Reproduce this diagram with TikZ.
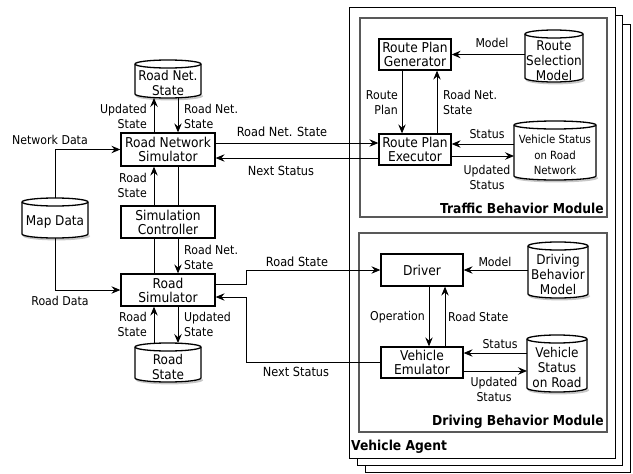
\documentclass[tikz,border=0pt]{standalone}
\usepackage{fontspec}
\setmainfont{DejaVu Sans}[FakeStretch=0.9]
\usetikzlibrary{arrows.meta,calc,shadows}
\newcommand\bxfont{\fontsize{13.6}{14}\selectfont}
\newcommand\lbfont{\fontsize{12.2}{15}\selectfont}
\newcommand\lbbig{\fontsize{12.6}{15}\selectfont}
\newcommand\smfont{\fontsize{11.3}{15.5}\selectfont}
\newcommand\cyfont{\fontsize{13.4}{15}\selectfont}
\newcommand\hdfont{\bfseries\fontsize{13.7}{15}\selectfont}
\newcommand\dbcyl[7]{%
  \node[minimum width=#4pt, minimum height=#5pt, inner sep=0pt, outer sep=0pt] (#1) at (#2,#3) {};
  \draw[black!22, line width=1.8pt] ($(#1.south west)+(1.5,-2.5)$) arc[start angle=180, end angle=0, x radius=#4/2, y radius=4];
  \draw[cylline, fill=white] ($(#1.north west)+(0,4)$) -- ($(#1.south west)+(0,-4)$) arc[start angle=180, end angle=0, x radius=#4/2, y radius=4] -- ($(#1.north east)+(0,4)$) arc[start angle=0, end angle=-180, x radius=#4/2, y radius=4] -- cycle;
  \draw[cylline] ($(#1.north west)+(0,4)$) arc[start angle=180, end angle=0, x radius=#4/2, y radius=4];
  \node[font=#7, align=center, inner sep=0pt] (#1t) at ($(#1)+(0,4.5)$) {#6};
}
\tikzset{
  box/.style={draw, line width=1.3pt, fill=white, font=\bxfont, align=center, inner sep=0pt,
    drop shadow={shadow xshift=1pt, shadow yshift=-1pt, opacity=0.35}},
  cylline/.style={line width=1.3pt},
  lbl/.style={font=\lbfont, inner sep=0pt},
  arr/.style={line width=0.9pt, -{Stealth[length=9pt, width=7.5pt, inset=3.2pt]}},
  ln/.style={line width=0.9pt},
  vaframe/.style={draw, line width=1pt, fill=white, inner sep=0pt,
    drop shadow={shadow xshift=1.2pt, shadow yshift=-1.2pt, opacity=0.35}},
  modframe/.style={draw=black!65, line width=1.6pt, inner sep=0pt,
    drop shadow={shadow xshift=1.2pt, shadow yshift=-1.2pt, opacity=0.3}},
}
\begin{document}
\begin{tikzpicture}[x=1pt, y=-1pt]
\useasboundingbox (0,0) rectangle (633,474);

% Vehicle agent stack
\node[vaframe, minimum width=265pt, minimum height=448pt] (va3) at (497.5,248) {};
\node[vaframe, minimum width=265pt, minimum height=450pt] (va2) at (489.5,240) {};
\node[vaframe, minimum width=266pt, minimum height=451pt] (va1) at (482,232.5) {};
\node[font=\hdfont, anchor=west, inner sep=0pt] (valbl) at (351,447) {Vehicle Agent};

% module frames
\node[modframe, fill=white, minimum width=247pt, minimum height=199pt] (tbm) at (483.5,117.5) {};
\node[font=\hdfont, anchor=east, inner sep=0pt] (tbmlbl) at (604,208) {Traffic Behavior Module};
\node[modframe, fill=white, minimum width=248pt, minimum height=199pt] (dbmod) at (483,332.5) {};
\node[font=\hdfont, anchor=east, inner sep=0pt] (dbmlbl) at (604,422) {Driving Behavior Module};

% left boxes
\node[box, minimum width=94pt, minimum height=33pt] (rns) at (168,149.5) {Road Network\\Simulator};
\node[box, minimum width=94pt, minimum height=32pt] (sc) at (168,222) {Simulation\\Controller};
\node[box, minimum width=94pt, minimum height=32pt] (rs) at (168,290) {Road\\Simulator};

% right boxes
\node[box, minimum width=72pt, minimum height=31pt] (rpg) at (415,54.5) {Route Plan\\Generator};
\node[box, minimum width=72pt, minimum height=31pt] (rpe) at (415,149.5) {Route Plan\\Executor};
\node[box, minimum width=82pt, minimum height=32pt] (drv) at (422,270) {Driver};
\node[box, minimum width=82pt, minimum height=31pt] (ve) at (422,362.5) {Vehicle\\Emulator};

% databases
\dbcyl{map}{55}{218}{66}{40}{Map Data}{\cyfont}
\dbcyl{rndb}{168}{79}{66}{38}{Road Net.\\State}{\cyfont}
\dbcyl{rsdb}{168}{362.5}{66}{39}{Road\\State}{\cyfont}
\dbcyl{rsm}{554}{56}{58}{52}{Route\\Selection\\Model}{\cyfont}
\dbcyl{vsrn}{555}{150.5}{82}{59}{Vehicle Status\\on Road\\Network}{\smfont}
\dbcyl{dbm}{558}{270}{60}{56}{Driving\\Behavior\\Model}{\cyfont}
\dbcyl{vsr}{557}{363.5}{60}{57}{Vehicle\\Status\\on Road}{\cyfont}

% left connectors
\draw[arr] ([xshift=-14pt]rns.north) -- ([xshift=-14pt]rndb.south);
\draw[arr] ([xshift=10pt]rndb.south) -- ([xshift=10pt]rns.north);
\draw[arr] ([xshift=-14pt]sc.north) -- ([xshift=-14pt]rns.south);
\draw[ln] ([xshift=10pt]rns.south) -- ([xshift=10pt]sc.north);
\draw[ln] ([xshift=-14pt]sc.south) -- ([xshift=-14pt]rs.north);
\draw[arr] ([xshift=10pt]sc.south) -- ([xshift=10pt]rs.north);
\draw[arr] ([xshift=-14pt]rsdb.north) -- ([xshift=-14pt]rs.south);
\draw[arr] ([xshift=10pt]rs.south) -- ([xshift=10pt]rsdb.north);
\draw[arr] (map.north) |- (rns.west);
\draw[arr] (map.south) |- (rs.west);

% long connectors
\draw[arr] ([yshift=6.5pt]rns.east) -- ([yshift=6.5pt]rpe.west);
\draw[arr] ([yshift=-8.5pt]rpe.west) -- ([yshift=-8.5pt]rns.east);
\coordinate (jx) at (246,280);
\draw[arr] ([yshift=6pt]rs.east) -- ([yshift=6pt]rs.east -| jx) |- (drv.west);
\draw[arr] (ve.west) -- (ve.west -| jx) |- ([yshift=-7pt]rs.east);

% right connectors
\draw[arr] (rpg.east -| rsm.west) -- (rpg.east);
\draw[arr] ([xshift=-13pt]rpg.south) -- ([xshift=-13pt]rpe.north);
\draw[arr] ([xshift=22pt]rpe.north) -- ([xshift=22pt]rpg.south);
\draw[arr] ([yshift=5.5pt]rpe.east -| vsrn.west) -- ([yshift=5.5pt]rpe.east);
\draw[arr] ([yshift=-6.5pt]rpe.east) -- ([yshift=-6.5pt]rpe.east -| vsrn.west);
\draw[arr] (drv.east -| dbm.west) -- (drv.east);
\draw[arr] ([xshift=7pt]drv.south) -- ([xshift=7pt]ve.north);
\draw[arr] ([xshift=23pt]ve.north) -- ([xshift=23pt]drv.south);
\draw[arr] ([yshift=9.5pt]ve.east -| vsr.west) -- ([yshift=9.5pt]ve.east);
\draw[arr] ([yshift=-8.5pt]ve.east) -- ([yshift=-8.5pt]ve.east -| vsr.west);

% labels left
\node[lbl, anchor=east, align=right] (l1) at (147,116.5) {Updated\\State};
\node[lbl, anchor=west, align=left] (l2) at (184,116.5) {Road Net.\\State};
\node[lbl] (l3) at (50,140) {Network Data};
\node[lbl, anchor=east, align=right] (l4) at (147,185.5) {Road\\State};
\node[lbl, anchor=west, align=left] (l5) at (184,257.5) {Road Net.\\State};
\node[lbl] (l6) at (60,301) {Road Data};
\node[lbl, anchor=east, align=right] (l7) at (147,324.5) {Road\\State};
\node[lbl, anchor=west, align=left] (l8) at (184,324.5) {Updated\\State};
\node[lbl, font=\lbbig] (l9) at (282,132) {Road Net. State};
\node[lbl, font=\lbbig] (l10) at (281,171) {Next Status};
\node[lbl, font=\lbbig] (l11) at (297,262) {Road State};
\node[lbl, font=\lbbig] (l12) at (296,372) {Next Status};

% labels right
\node[lbl] (r1) at (492,43) {Model};
\node[lbl, anchor=east, align=right] (r2) at (398,102.5) {Route\\Plan};
\node[lbl, anchor=west, align=left] (r3) at (443,102.5) {Road Net.\\State};
\node[lbl] (r4) at (487,134) {Status};
\node[lbl, align=center] (r5) at (487,177) {Updated\\Status};
\node[lbl] (r6) at (495,262) {Model};
\node[lbl, anchor=east] (r7) at (425,317) {Operation};
\node[lbl, anchor=west] (r8) at (448,317) {Road State};
\node[lbl] (r9) at (500,344) {Status};
\node[lbl, align=center] (r10) at (494,389.5) {Updated\\Status};
\end{tikzpicture}
\end{document}
